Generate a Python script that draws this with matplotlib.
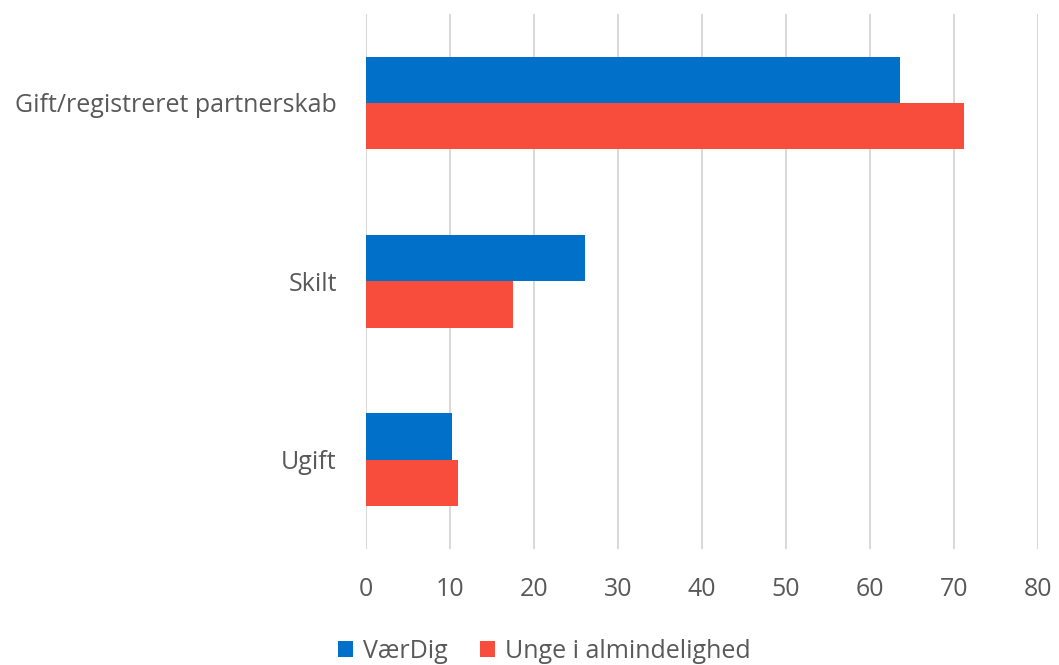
import numpy as np
import matplotlib.pyplot as plt

categories = ['Gift/registreret partnerskab', 'Skilt', 'Ugift']
vaerdig = [63.6, 26.1, 10.2]
unge = [71.2, 17.5, 11.0]
series_names = ['VærDig', 'Unge i almindelighed']
xticks = [0, 10, 20, 30, 40, 50, 60, 70, 80]

plt.rcParams['font.family'] = ['Open Sans', 'DejaVu Sans']
text_color = '#595959'

fig = plt.figure(figsize=(10.59, 6.65), dpi=100)
ax = fig.add_axes([0.3456, 0.1744, 0.6344, 0.805])

y = np.arange(len(categories))
h = 0.26
ax.barh(y - h / 2, vaerdig, height=h, color='#0070C8', label=series_names[0], zorder=3)
ax.barh(y + h / 2, unge, height=h, color='#F84C3C', label=series_names[1], zorder=3)

ax.set_ylim(len(categories) - 0.5, -0.5)
ax.set_xlim(0, 80)
ax.set_xticks(xticks)
ax.set_yticks(y)
ax.set_yticklabels(categories)
ax.tick_params(axis='both', length=0, labelsize=18, colors=text_color)
ax.tick_params(axis='x', pad=20)
ax.tick_params(axis='y', pad=21)
ax.grid(axis='x', color='#D9D9D9', linewidth=1.5, zorder=0)
for s in ax.spines.values():
    s.set_visible(False)

leg = fig.legend(loc='lower center', bbox_to_anchor=(0.514, -0.032), ncol=2, frameon=False,
                 fontsize=18, handlelength=0.6, handleheight=0.6, handletextpad=0.4,
                 columnspacing=1.3, labelcolor=text_color)

fig.savefig('out.png', dpi=100)
